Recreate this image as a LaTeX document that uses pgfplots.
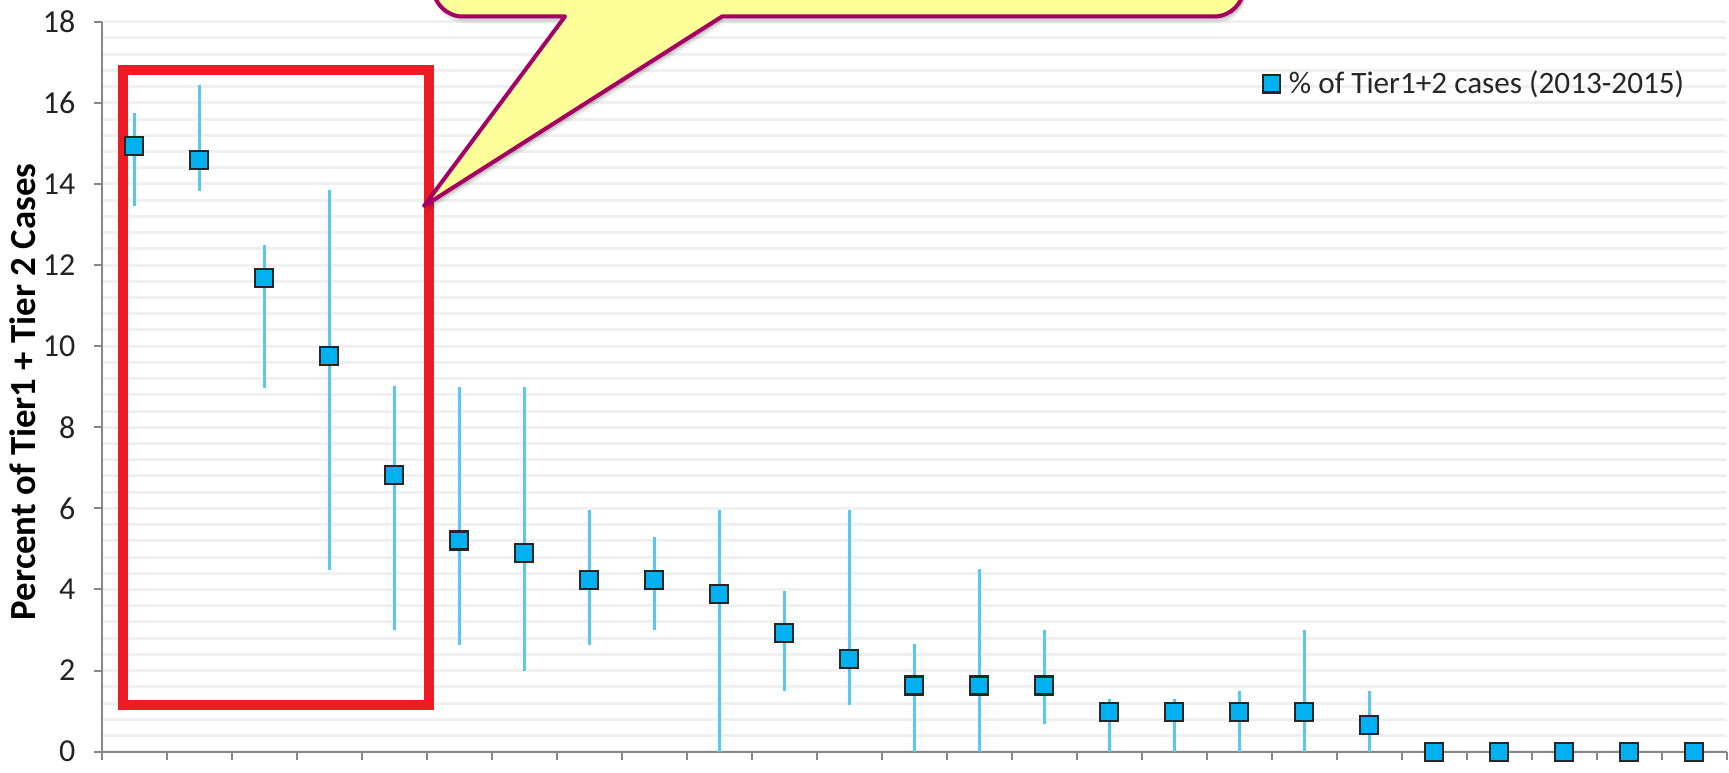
\documentclass[border=0pt]{standalone}
\usepackage{fontspec}
\setmainfont{Carlito}
\usepackage{pgfplots}
\usepackage{pgfplotstable}
\pgfplotsset{compat=1.18}

\definecolor{markblue}{RGB}{0,176,240}
\definecolor{barblue}{RGB}{88,200,242}
\definecolor{axisgray}{RGB}{134,134,134}
\definecolor{gridgray}{RGB}{240,240,240}
\definecolor{ticktext}{RGB}{35,35,35}
\definecolor{redbox}{RGB}{237,28,36}
\definecolor{calloutfill}{RGB}{255,255,153}
\definecolor{calloutedge}{RGB}{165,0,100}

% share of Tier1+2 cases with asymmetric uncertainty ranges
\pgfplotstableread{
x  y      plus  minus
1  14.93  0.83  1.47
2  14.59  1.84  0.76
3  11.68  0.81  2.72
4  9.75   4.10  5.27
5  6.82   2.19  3.83
6  5.21   3.78  2.58
7  4.89   4.10  2.91
8  4.24   1.73  1.61
9  4.24   1.05  1.25
10 3.88   2.09  3.88
11 2.93   1.03  1.44
12 2.28   3.69  1.14
13 1.63   1.03  1.63
14 1.63   2.88  1.63
15 1.63   1.38  0.95
16 0.98   0.32  0.98
17 0.98   0.32  0.98
18 0.98   0.51  0.98
19 0.98   2.03  0.98
20 0.65   0.84  0.65
21 0      0     0
22 0      0     0
23 0      0     0
24 0      0     0
25 0      0     0
}\tierdata

\begin{document}
\begin{tikzpicture}
\useasboundingbox (-50.85pt,-10.15pt) rectangle (813.65pt,375.85pt);
\clip (-50.85pt,-10.15pt) rectangle (813.65pt,375.85pt);
\begin{axis}[
  at={(0pt,0pt)}, anchor=south west,
  scale only axis, width=812.5pt, height=365pt,
  xmin=0.5, xmax=25.5, ymin=0, ymax=18,
  clip=false,
  axis x line=bottom, axis y line=left,
  axis line style={-, draw=axisgray, line width=1pt},
  xtick={0.5,1.5,...,25.5}, xticklabels={},
  ytick={0,2,...,18},
  minor y tick num=4,
  tick align=outside, major tick length=4pt, minor tick length=0pt,
  tick style={draw=axisgray, line width=1pt},
  ymajorgrids, yminorgrids,
  grid style={draw=gridgray, line width=1.5pt},
  /pgf/number format/assume math mode=true,
  yticklabel style={font=\fontsize{16}{19}\selectfont, text=ticktext, inner sep=0pt, xshift=-9pt},
  ylabel={Percent of Tier1 + Tier 2 Cases},
  ylabel style={font=\bfseries\fontsize{18.4}{22}\selectfont, at={(axis description cs:-0.0484,0.493)}, anchor=center},
  legend style={draw=none, fill=none, at={(axis description cs:0.7145,0.9147)}, anchor=west,
    inner sep=0pt, outer sep=0pt, font=\fontsize{15.6}{18}\selectfont, text=black!85,
    nodes={inner xsep=4.5pt}},
  legend image code/.code={\draw[mark=square*, mark size=4.3pt, draw=black!85, fill=markblue, line width=1.1pt] plot coordinates {(0pt,0pt)};},
]
\draw[redbox, line width=5pt] (axis cs:0.832,1.151) rectangle (axis cs:5.528,16.81);
\addplot[forget plot, draw=none, mark=none,
  error bars/.cd, y dir=both, y explicit, error mark=none,
  error bar style={draw=barblue, line width=1.5pt, solid}]
  table[x=x, y=y, y error plus=plus, y error minus=minus] {\tierdata};
\addplot[only marks, mark=square*, mark size=4.5pt,
  mark options={draw=black!85, fill=markblue, line width=1.1pt}]
  table[x=x, y=y] {\tierdata};
\addlegendentry{\% of Tier1+2 cases (2013-2015)}
\end{axis}
% callout bubble, coordinates in pixels from the top-left corner
\begin{scope}[shift={(-50.85pt,375.85pt)}, x=0.5pt, y=-0.5pt]
  \foreach \dy/\op in {7/0.05, 5/0.08, 3/0.12} {
    \fill[black, opacity=\op, shift={(2,\dy)}]
      (565,16.5) -- (424,206) -- (722,16.5) -- (1214,16.5)
      arc[start angle=90,end angle=0,radius=30] -- (1244,-300) -- (433,-300) -- (433,-13.5)
      arc[start angle=180,end angle=90,radius=30] -- cycle;
  }
  \filldraw[fill=calloutfill, draw=calloutedge, line width=2pt, line join=round]
    (565,16.5) -- (424,206) -- (722,16.5) -- (1214,16.5)
    arc[start angle=90,end angle=0,radius=30] -- (1244,-300) -- (433,-300) -- (433,-13.5)
    arc[start angle=180,end angle=90,radius=30] -- cycle;
\end{scope}
\end{tikzpicture}
\end{document}
